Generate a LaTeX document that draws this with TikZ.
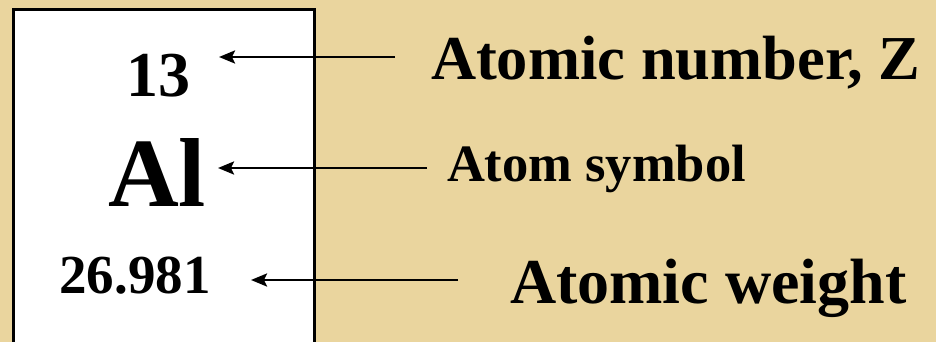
\documentclass[tikz,border=0pt]{standalone}
\usepackage{fontspec}
\setmainfont{Liberation Serif}
\usetikzlibrary{arrows.meta}
\definecolor{parch}{RGB}{234,213,158}
\tikzset{
  lbl/.style={inner sep=0pt, outer sep=0pt, font=\bfseries},
  ptr/.style={line width=2.6pt, -{Stealth[length=16pt,width=13pt,inset=3pt]}},
}
\newcommand{\fs}[1]{\fontsize{#1}{#1}\selectfont}
\begin{document}
\begin{tikzpicture}[x=1pt,y=-1pt]
\useasboundingbox (0,0) rectangle (936,342);
\fill[parch] (0,0) rectangle (936,342);
\begin{scope}
\clip (0,0) rectangle (936,342);
\draw[line width=3pt, fill=white] (13.5,9.5) rectangle (314.5,360);
\end{scope}
% element box texts
\node[lbl, anchor=base, font=\bfseries\fs{64}] (num) at (158,97) {13};
\node[lbl, anchor=base, font=\bfseries\fs{98}] (sym) at (157,206) {Al};
\node[lbl, anchor=base, font=\bfseries\fs{55}] (wt) at (135,293) {26.981};
% labels
\node[lbl, anchor=base west, font=\bfseries\fs{62.5}] (lnum) at (431,80) {Atomic number, Z};
\node[lbl, anchor=base west, font=\bfseries\fs{52.5}] (lsym) at (447,181) {Atom symbol};
\node[lbl, anchor=base west, font=\bfseries\fs{64}] (lwt) at (510,303) {Atomic weight};
% arrow ends
\coordinate (t1) at (395,57);  \coordinate (h1) at (219,57);
\coordinate (t2) at (427,168); \coordinate (h2) at (218,168);
\coordinate (t3) at (458,280); \coordinate (h3) at (251,280);
\draw[ptr] (t1) -- (h1);
\draw[ptr] (t2) -- (h2);
\draw[ptr] (t3) -- (h3);
\end{tikzpicture}
\end{document}
